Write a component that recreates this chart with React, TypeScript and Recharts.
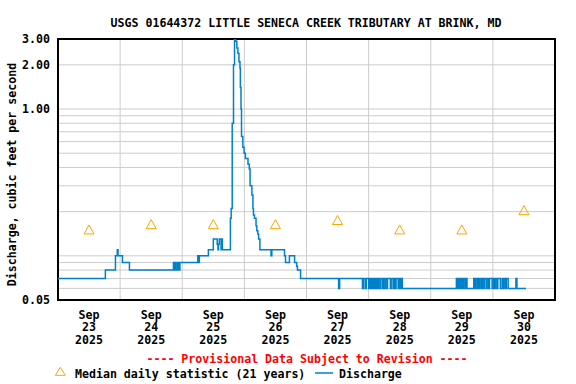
import React from 'react';
import { ComposedChart, Line, Scatter, XAxis, YAxis, CartesianGrid, ReferenceArea } from 'recharts';

const TITLE = 'USGS 01644372 LITTLE SENECA CREEK TRIBUTARY AT BRINK, MD';
const Y_LABEL = 'Discharge, cubic feet per second';
const PROVISIONAL = '---- Provisional Data Subject to Revision ----';
const LEGEND_MEDIAN = 'Median daily statistic (21 years)';
const LEGEND_DISCHARGE = 'Discharge';

// hours since Sep 23 2025 00:00
const dayMonths = ['Sep', 'Sep', 'Sep', 'Sep', 'Sep', 'Sep', 'Sep', 'Sep'];
const dayNumbers = ['23', '24', '25', '26', '27', '28', '29', '30'];
const dayYears = ['2025', '2025', '2025', '2025', '2025', '2025', '2025', '2025'];
const dayNoonHours = [12, 36, 60, 84, 108, 132, 156, 180];
const dayMidnightHours = [0, 24, 48, 72, 96, 120, 144, 168, 192];
const medianValues = [0.15, 0.163, 0.163, 0.163, 0.174, 0.15, 0.15, 0.203];

const yTicks = [0.05, 1, 2, 3];
const yGridValues = [0.06, 0.07, 0.08, 0.09, 0.1, 0.2, 0.3, 0.4, 0.5, 0.6, 0.7, 0.8, 0.9, 1, 2];

const discharge: [number, number][] = [
  [0, 0.07], [18.3, 0.08], [22.2, 0.1], [22.9, 0.11], [23.2, 0.1], [24.9, 0.09], [27.6, 0.08],
  [44.6, 0.09], [44.8, 0.08], [45.0, 0.09], [45.2, 0.08], [45.4, 0.09], [45.6, 0.08],
  [46.2, 0.09], [46.4, 0.08], [46.6, 0.09], [46.8, 0.08], [47.1, 0.09],
  [54.0, 0.1], [54.3, 0.09], [54.6, 0.1], [58.1, 0.11], [60.0, 0.13],
  [61.5, 0.12], [61.8, 0.11], [62.0, 0.12], [62.3, 0.13], [63.0, 0.11], [63.2, 0.13], [63.5, 0.11],
  [66.6, 0.18], [66.9, 0.21], [67.3, 0.8], [67.8, 2.0], [68.2, 3.0], [68.6, 2.9], [69.1, 2.6],
  [69.5, 2.4], [69.9, 2.1], [70.3, 1.9], [70.45, 1.4], [70.7, 1.0], [70.9, 0.65], [71.4, 0.55],
  [71.9, 0.5], [72.4, 0.46], [73.4, 0.42], [73.9, 0.39], [74.2, 0.3], [74.9, 0.26], [75.3, 0.21],
  [75.5, 0.19], [75.9, 0.18], [76.5, 0.16], [76.8, 0.148], [77.2, 0.14], [77.5, 0.13], [78.0, 0.11],
  [82.3, 0.1], [82.6, 0.11], [87.5, 0.1], [87.9, 0.09], [89.4, 0.1], [91.4, 0.09], [92.2, 0.085],
  [92.5, 0.08], [93.7, 0.07], [108.4, 0.06], [108.8, 0.07],
  [117.6, 0.06], [118.0, 0.07], [118.7, 0.06], [119.1, 0.07], [120.0, 0.06], [120.4, 0.07],
  [120.7, 0.06], [121.2, 0.07], [121.5, 0.06], [122.0, 0.07], [122.3, 0.06], [122.8, 0.07],
  [123.1, 0.06], [123.6, 0.07], [123.9, 0.06], [124.5, 0.07], [125.2, 0.06], [125.6, 0.07],
  [125.9, 0.06], [126.5, 0.07], [127.1, 0.06], [127.3, 0.07], [128.4, 0.06], [129.0, 0.07],
  [129.7, 0.06], [130.0, 0.07], [130.3, 0.06], [130.6, 0.07], [131.4, 0.06], [131.8, 0.07],
  [132.1, 0.06], [132.5, 0.07], [133.0, 0.06],
  [153.9, 0.07], [154.3, 0.06], [154.6, 0.07], [155.0, 0.06], [155.3, 0.07], [155.8, 0.06],
  [156.1, 0.07], [156.6, 0.06], [156.9, 0.07], [157.5, 0.06], [157.7, 0.07], [158.0, 0.06],
  [160.6, 0.07], [160.9, 0.06], [161.3, 0.07], [161.9, 0.06], [162.3, 0.07], [162.7, 0.06],
  [163.0, 0.07], [163.6, 0.06], [163.9, 0.07], [164.5, 0.06], [164.8, 0.07], [165.5, 0.06],
  [165.8, 0.07], [166.4, 0.06], [166.7, 0.07], [167.7, 0.06], [168.3, 0.07], [168.7, 0.06],
  [169.0, 0.07], [169.6, 0.06], [169.9, 0.07], [170.9, 0.06], [171.6, 0.07], [172.0, 0.06],
  [172.3, 0.07], [172.9, 0.06], [173.2, 0.07], [173.9, 0.06], [176.9, 0.07], [177.3, 0.06],
  [180.8, 0.06],
];

const dischargeData = discharge.map(([t, v]) => ({ t, v }));
const medianData = dayNoonHours.map((t, i) => ({ t, v: medianValues[i] }));

const FONT = '"DejaVu Sans Mono", "Liberation Mono", monospace';
const FS = 11.6;
const LINE_COLOR = '#0080c8';
const TRI_COLOR = '#ffa500';

const XTick = (props: any) => {
  const { x, y, payload } = props;
  const i = dayNoonHours.indexOf(payload.value);
  if (i < 0) return null;
  const common = { x, textAnchor: 'middle' as const, fontFamily: FONT, fontSize: FS, fontWeight: 700, fill: '#000' };
  return (
    <g>
      <text {...common} y={y + 18.5}>{dayMonths[i]}</text>
      <text {...common} y={y + 31.2}>{dayNumbers[i]}</text>
      <text {...common} y={y + 44.3}>{dayYears[i]}</text>
    </g>
  );
};

const Triangle = (props: any) => {
  const { cx, cy } = props;
  if (cx == null || cy == null) return null;
  return (
    <path
      d={`M${cx - 5},${cy + 4} L${cx + 5},${cy + 4} L${cx},${cy - 5} Z`}
      fill="none"
      stroke={TRI_COLOR}
      strokeWidth={1}
    />
  );
};

export default function App() {
  return (
    <div style={{ position: 'absolute', left: 0, top: 0, width: 576, height: 384, background: '#fff' }}>
      <ComposedChart width={576} height={384} margin={{ top: 39, right: 21, bottom: 34, left: 0 }}>
        <CartesianGrid
          stroke="#cccccc"
          strokeWidth={1}
          horizontalValues={yGridValues}
          verticalValues={dayMidnightHours}
        />
        <XAxis
          type="number"
          dataKey="t"
          domain={[0, 192]}
          ticks={dayNoonHours}
          interval={0}
          allowDataOverflow
          tick={<XTick />}
          tickLine={false}
          axisLine={false}
          tickSize={0}
          tickMargin={0}
          height={50}
        />
        <YAxis
          type="number"
          scale="log"
          domain={[0.05, 3]}
          ticks={yTicks}
          interval={0}
          allowDataOverflow
          width={58}
          tickLine={false}
          axisLine={false}
          tickSize={0}
          tickMargin={8}
          tickFormatter={(v: number) => v.toFixed(2)}
          tick={{ fontFamily: FONT, fontSize: FS, fontWeight: 700, fill: '#000' }}
        />
        <Line
          data={dischargeData}
          dataKey="v"
          type="stepAfter"
          stroke={LINE_COLOR}
          strokeWidth={1.5}
          dot={false}
          isAnimationActive={false}
        />
        <Scatter data={medianData} dataKey="v" shape={<Triangle />} isAnimationActive={false} />
        <ReferenceArea x1={0} x2={192} y1={0.05} y2={3} fill="none" stroke="#000" strokeWidth={2} fillOpacity={0} />
      </ComposedChart>
      <svg
        width={576}
        height={384}
        style={{ position: 'absolute', left: 0, top: 0, pointerEvents: 'none' }}
      >
        <text x={306} y={26.5} textAnchor="middle" fontFamily={FONT} fontSize={FS} fontWeight={700} fill="#000">
          {TITLE}
        </text>
        <text
          transform="translate(15.7,174.5) rotate(-90)"
          textAnchor="middle"
          fontFamily={FONT}
          fontSize={FS}
          fontWeight={700}
          fill="#000"
        >
          {Y_LABEL}
        </text>
        <text x={307} y={363} textAnchor="middle" fontFamily={FONT} fontSize={FS} fontWeight={700} fill="#ff0000">
          {PROVISIONAL}
        </text>
        <path d="M55.3,375.3 L65.3,375.3 L60.3,367.3 Z" fill="none" stroke={TRI_COLOR} strokeWidth={1} />
        <text x={75} y={377.5} fontFamily={FONT} fontSize={FS} fontWeight={700} fill="#000">
          {LEGEND_MEDIAN}
        </text>
        <line x1={315} x2={333} y1={373} y2={373} stroke={LINE_COLOR} strokeWidth={1.5} />
        <text x={339} y={377.5} fontFamily={FONT} fontSize={FS} fontWeight={700} fill="#000">
          {LEGEND_DISCHARGE}
        </text>
      </svg>
    </div>
  );
}
